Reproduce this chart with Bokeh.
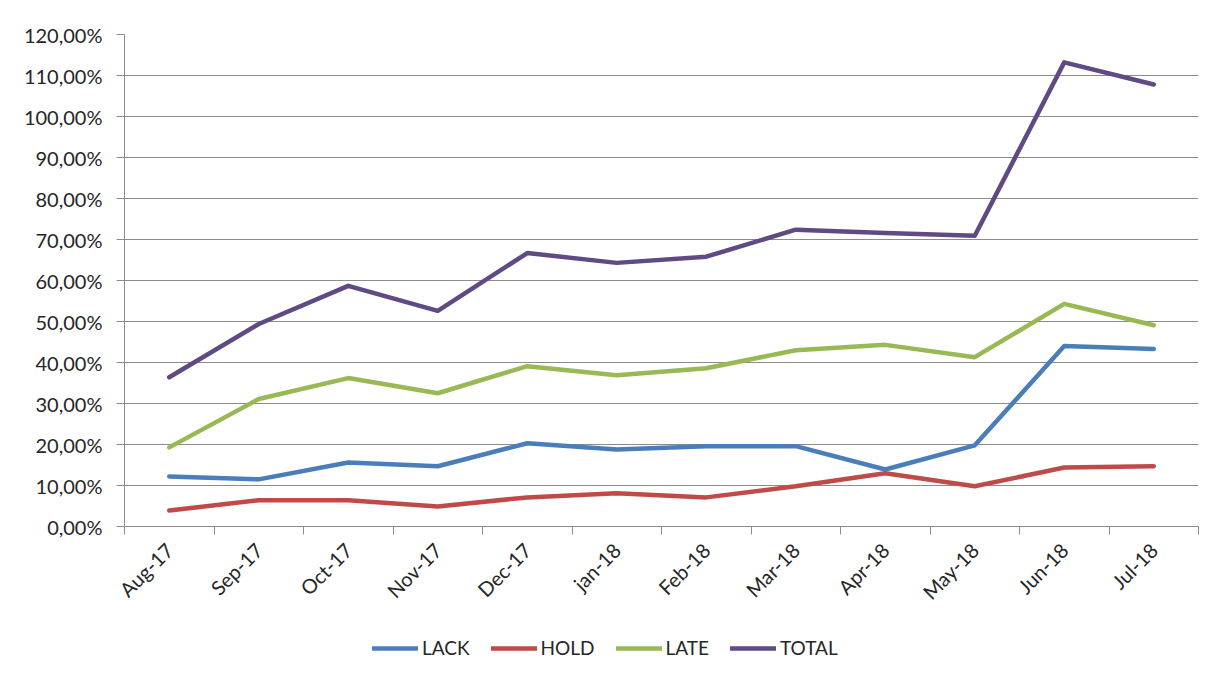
import math
from bokeh.plotting import figure
from bokeh.layouts import column
from bokeh.models import FixedTicker, Legend, LegendItem, Range1d
from bokeh.embed import file_html
from bokeh.resources import INLINE

months = ["Aug-17", "Sep-17", "Oct-17", "Nov-17", "Dec-17", "jan-18",
          "Feb-18", "Mar-18", "Apr-18", "May-18", "Jun-18", "Jul-18"]
lack = [12.2, 11.5, 15.6, 14.7, 20.3, 18.8, 19.6, 19.6, 13.9, 19.8, 44.0, 43.3]
hold = [3.9, 6.4, 6.4, 4.9, 7.1, 8.1, 7.1, 9.8, 13.0, 9.8, 14.4, 14.7]
late = [19.3, 31.1, 36.2, 32.5, 39.1, 36.9, 38.6, 43.0, 44.3, 41.3, 54.3, 49.1]
total = [36.4, 49.4, 58.7, 52.6, 66.7, 64.3, 65.8, 72.4, 71.6, 70.9, 113.2, 107.8]
y_ticks = [0, 10, 20, 30, 40, 50, 60, 70, 80, 90, 100, 110, 120]

series = [("LACK", lack, "#4A7EBB"), ("HOLD", hold, "#BE4B48"),
          ("LATE", late, "#98B954"), ("TOTAL", total, "#5F4A84")]

FONT = "Lato"
TXT = "#262626"
GRID = "#8C8C8C"
xs = [i + 0.5 for i in range(len(months))]

p = figure(width=1204, height=615, output_backend="svg", toolbar_location=None,
           x_range=Range1d(0, len(months)), y_range=Range1d(0, 120),
           min_border_left=124, min_border_top=34, min_border_right=6,
           min_border_bottom=79)

p.outline_line_color = None
p.xgrid.grid_line_color = None
p.ygrid.grid_line_color = GRID
p.ygrid.grid_line_width = 1

# y axis
p.yaxis.ticker = FixedTicker(ticks=y_ticks)
p.yaxis.major_label_overrides = {t: f"{t},00%" for t in y_ticks}
p.yaxis.axis_line_color = GRID
p.yaxis.major_tick_line_color = GRID
p.yaxis.major_tick_out = 8
p.yaxis.major_tick_in = 0
p.yaxis.minor_tick_line_color = None
p.yaxis.major_label_standoff = 14
p.yaxis.major_label_text_font = FONT
p.yaxis.major_label_text_font_size = "20px"
p.yaxis.major_label_text_color = TXT

# x axis: labels at category centers, tick marks at boundaries
p.xaxis.ticker = FixedTicker(ticks=xs, minor_ticks=list(range(len(months) + 1)))
p.xaxis.major_label_overrides = {x: m for x, m in zip(xs, months)}
p.xaxis.major_label_orientation = math.pi / 4
p.xaxis.axis_line_color = GRID
p.xaxis.major_tick_line_color = None
p.xaxis.minor_tick_line_color = GRID
p.xaxis.minor_tick_out = 8
p.xaxis.minor_tick_in = 0
p.xaxis.major_label_standoff = 12
p.xaxis.major_label_text_font = FONT
p.xaxis.major_label_text_font_size = "20px"
p.xaxis.major_label_text_color = TXT

for name, vals, color in series:
    p.line(xs, vals, line_color=color, line_width=4.5,
           line_join="round", line_cap="round")

# legend in its own strip below the chart (proxy lines lie outside its view)
lf = figure(width=1204, height=56, output_backend="svg", toolbar_location=None,
            x_range=Range1d(0, 1), y_range=Range1d(0, 1),
            x_axis_location=None, y_axis_location=None,
            min_border_left=0, min_border_right=0, min_border_top=0,
            min_border_bottom=0)
lf.grid.visible = False
lf.outline_line_color = None
items = []
for name, vals, color in series:
    r = lf.line([5, 6], [5, 6], line_color=color, line_width=4.5, line_cap="round")
    items.append(LegendItem(label=name, renderers=[r]))

legend = Legend(items=items, orientation="horizontal", location=(248, 12),
                border_line_color=None, background_fill_alpha=0,
                label_text_font=FONT, label_text_font_size="19px",
                label_text_color=TXT, glyph_width=46, glyph_height=20,
                label_standoff=4, spacing=21, margin=0, padding=4)
lf.add_layout(legend, "center")

layout = column(p, lf, spacing=0)
open("out.html", "w").write(file_html(layout, INLINE))
